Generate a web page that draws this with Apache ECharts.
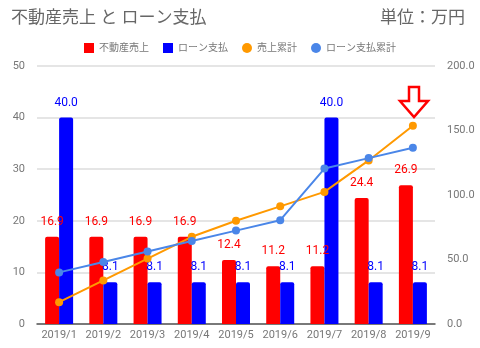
<!DOCTYPE html>
<html><head><meta charset="utf-8">
<script src="https://cdn.jsdelivr.net/npm/echarts@6/dist/echarts.min.js"></script>
<style>html,body{margin:0;padding:0;background:#fff}#c{width:480px;height:348px}</style>
</head><body><div id="c"></div>
<script>
const categories = ['2019/1','2019/2','2019/3','2019/4','2019/5','2019/6','2019/7','2019/8','2019/9'];
const sales = [16.9,16.9,16.9,16.9,12.4,11.2,11.2,24.4,26.9];
const loan = [40.0,8.1,8.1,8.1,8.1,8.1,40.0,8.1,8.1];
const salesCum = [16.9,33.8,50.7,67.6,80.0,91.2,102.4,126.8,153.7];
const loanCum = [40.0,48.1,56.2,64.3,72.4,80.5,120.5,128.6,136.7];
const leftTicks = [0,10,20,30,40,50];
const rightTicks = [0,50,100,150,200];

const font = 'Roboto, "Noto Sans CJK JP", sans-serif';
const chart = echarts.init(document.getElementById('c'), null, {renderer:'canvas'});
chart.setOption({
  animation:false,
  textStyle:{fontFamily:font},
  title:[
    {text:'不動産売上 と ローン支払', left:6, top:5, textStyle:{fontSize:17, fontWeight:'normal', color:'#666', fontFamily:font}},
    {text:'単位：万円', right:10, top:5, textStyle:{fontSize:17, fontWeight:'normal', color:'#666', fontFamily:font}}
  ],
  legend:{
    top:38, left:'center', itemWidth:10, itemHeight:10, itemGap:14,
    textStyle:{fontSize:10, color:'#777'},
    data:[
      {name:'不動産売上', icon:'rect'},
      {name:'ローン支払', icon:'rect'},
      {name:'売上累計', icon:'circle'},
      {name:'ローン支払累計', icon:'circle'}
    ]
  },
  grid:{left:37, right:45, top:66, bottom:24},
  xAxis:{
    type:'category', data:categories,
    axisLine:{lineStyle:{color:'#555', width:1.5}},
    axisTick:{show:false},
    axisLabel:{color:'#777', fontSize:11, margin:6, interval:0}
  },
  yAxis:[
    {type:'value', min:leftTicks[0], max:leftTicks[leftTicks.length-1], interval:10,
     axisLine:{show:false}, axisTick:{show:false},
     axisLabel:{color:'#777', fontSize:11, margin:12},
     splitLine:{lineStyle:{color:'#ddd', width:1.5}}},
    {type:'value', min:rightTicks[0], max:rightTicks[rightTicks.length-1], interval:50,
     axisLine:{show:false}, axisTick:{show:false},
     axisLabel:{color:'#777', fontSize:11, margin:12, formatter:v=>v.toFixed(1)},
     splitLine:{show:false}}
  ],
  series:[
    {name:'不動産売上', type:'bar', yAxisIndex:0, data:sales, barWidth:14, barGap:'0%',
     itemStyle:{color:'#ff0000', borderRadius:[2,2,0,0]},
     label:{show:true, position:'top', distance:9, color:'#ff0000', fontSize:12, formatter:p=>p.value.toFixed(1)}},
    {name:'ローン支払', type:'bar', yAxisIndex:0, data:loan, barWidth:14, barGap:'0%',
     itemStyle:{color:'#0000ff', borderRadius:[2,2,0,0]},
     label:{show:true, position:'top', distance:9, color:'#0000ff', fontSize:12, formatter:p=>p.value.toFixed(1)}},
    {name:'売上累計', type:'line', yAxisIndex:1, data:salesCum, symbol:'circle', symbolSize:8,
     lineStyle:{color:'#ff9900', width:2}, itemStyle:{color:'#ff9900'}, z:5},
    {name:'ローン支払累計', type:'line', yAxisIndex:1, data:loanCum, symbol:'circle', symbolSize:8,
     lineStyle:{color:'#4a86e8', width:2}, itemStyle:{color:'#4a86e8'}, z:5}
  ],
  graphic:[
    {type:'polygon', shape:{points:[[409,87],[419,87],[419,101],[428,101],[414,117],[400,101],[409,101]]},
     style:{fill:'#fff', stroke:'#ff0000', lineWidth:2.5}, z:10}
  ]
});
</script></body></html>
